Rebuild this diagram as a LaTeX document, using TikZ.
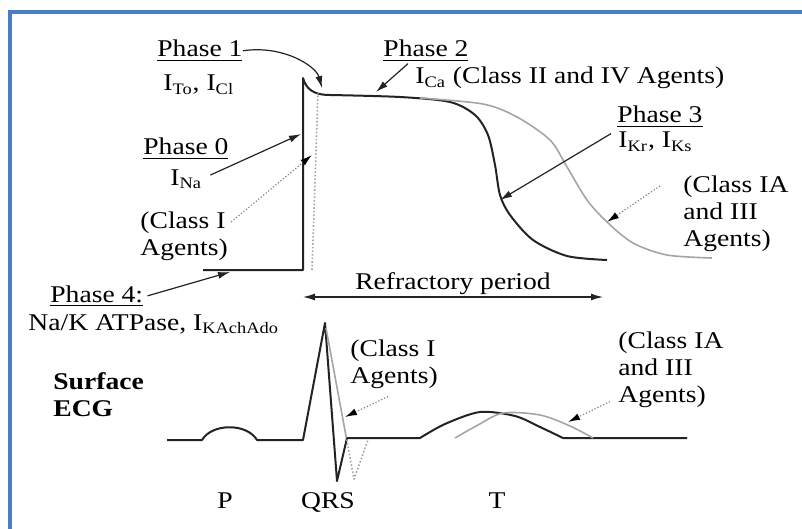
\documentclass[tikz,border=0pt]{standalone}
\usepackage{fontspec}
\setmainfont[FakeStretch=1.15]{Liberation Serif}
\usetikzlibrary{arrows.meta, positioning}
\definecolor{cFrame}{RGB}{74,126,193}
\definecolor{cTrace}{RGB}{35,35,35}
\definecolor{cShift}{RGB}{165,165,165}
\tikzset{
	lbl/.style   ={inner sep=0pt, anchor=base west, align=left},
	trace/.style ={line width=1pt, draw=cTrace, line join=round},
	shifted/.style={line width=0.8pt, draw=cShift, line join=round},
	ptr/.style   ={-{Latex[length=6pt, width=3.5pt]}, line width=0.6pt, draw=cTrace},
	dptr/.style  ={-{Latex[length=6pt, width=3.5pt, color=black]}, line width=0.6pt, draw=gray, densely dotted},
}

\begin{document}
\begin{tikzpicture}[x=0.5pt, y=-0.5pt, font=\fontsize{12}{13.5}\selectfont]
	\useasboundingbox (0,0) rectangle (802,529);
	\draw[cFrame, line width=1.6pt] (10,529) -- (10,12) -- (802,12);

	% action potential
	\draw[trace] (203,270) -- (303,270) -- (303,78)
		.. controls (306,88) and (312,95) .. (330,95)
		-- plot[smooth] coordinates {(330,95) (400,97) (450,102) (475,115) (488,135) (495,165) (500,195) (510,215) (533,240) (567,256) (607,260)};
	\draw[shifted] plot[smooth] coordinates {(420,98) (483,104) (517,117) (550,140) (567,167) (587,200) (607,222) (633,243) (667,255) (712,258)};
	\draw[shifted, densely dotted] (312,270) -- (318,93);

	% surface ECG
	\draw[trace] (167,440) -- (202,440) .. controls (212,423) and (247,423) .. (257,440)
		-- (303,440) -- (325,323) -- (337,481) -- (347,438) -- (420,438)
		-- plot[smooth] coordinates {(420,438) (445,424) (480,412) (515,416) (540,427) (563,438)}
		-- (687,438);
	\draw[shifted] (326,328) -- (346,436);
	\draw[shifted, densely dotted] (346,436) -- (354,479) -- (368,440);
	\draw[shifted] plot[smooth] coordinates {(455,438) (478,425) (503,413) (540,415) (570,426) (593,438)};

	% labels (multi-line ones sit on their last line)
	\node[lbl] (ph1)  at (157,57)  {\underline{Phase 1}};
	\node[lbl] (ph1i) at (163,91)  {I\textsubscript{To}, I\textsubscript{Cl}};
	\node[lbl] (ph2)  at (383,57)  {\underline{Phase 2}};
	\node[lbl] (ph2i) at (415,84)  {I\textsubscript{Ca} (Class II and IV Agents)};
	\node[lbl] (ph0)  at (143,155) {\underline{Phase 0}};
	\node[lbl] (ph0i) at (170,185) {I\textsubscript{Na}};
	\node[lbl] (cl1)  at (140,256) {(Class I\\Agents)};
	\node[lbl] (ph3)  at (617,123) {\underline{Phase 3}};
	\node[lbl] (ph3i) at (618,148) {I\textsubscript{Kr}, I\textsubscript{Ks}};
	\node[lbl] (cl3)  at (683,246) {(Class IA\\and III\\Agents)};
	\node[lbl] (ph4)  at (50,302)  {\underline{Phase 4:}};
	\node[lbl] (ph4i) at (28,330)  {Na/K ATPase, I\textsubscript{KAchAdo}};
	\node[lbl, font=\fontsize{12}{13.5}\selectfont\bfseries] (ecg) at (53,416) {Surface\\ECG};
	\node[lbl] (qcl)  at (350,383) {(Class I\\Agents)};
	\node[lbl] (tcl)  at (618,402) {(Class IA\\and III\\Agents)};
	\node[lbl, anchor=base] (pw)  at (225,508) {P};
	\node[lbl, anchor=base] (qrs) at (328,508) {QRS};
	\node[lbl, anchor=base] (tw)  at (497,508) {T};

	% arrow targets
	\coordinate (tip1) at (322,88);
	\coordinate (tip2) at (376,92);
	\coordinate (tip0) at (301,134);
	\coordinate (tipc1) at (312,155);
	\coordinate (tip3) at (500,200);
	\coordinate (tipc3) at (607,222);
	\coordinate (tip4) at (230,272);
	\coordinate (tipq) at (345,417);
	\coordinate (tipt) at (568,422);
	\coordinate (rl) at (303,297);
	\coordinate (rr) at (603,297);

	\draw[ptr] (ph1.east) .. controls +(40,-6) and +(-6,-22) .. (tip1);
	\draw[ptr] ([shift={(25,2)}]ph2.south west) -- (tip2);
	\draw[ptr] ([shift={(8,-4)}]ph0i.east) -- (tip0);
	\draw[dptr] ([shift={(3,10)}]cl1.north east) -- (tipc1);
	\draw[ptr] ([shift={(-6,6)}]ph3.south west) -- (tip3);
	\draw[dptr] ([shift={(-23,11)}]cl3.north west) -- (tipc3);
	\draw[ptr] ([shift={(4,0)}]ph4.east) -- (tip4);
	\draw[dptr] ([shift={(-6,8)}]qcl.south) -- (tipq);
	\draw[dptr] ([shift={(-8,-6)}]tcl.south west) -- (tipt);
	\draw[ptr, {Latex[length=6pt, width=3.5pt]}-{Latex[length=6pt, width=3.5pt]}] (rl) -- node[above, inner sep=1pt] (refr) {Refractory period} (rr);
\end{tikzpicture}
\end{document}
